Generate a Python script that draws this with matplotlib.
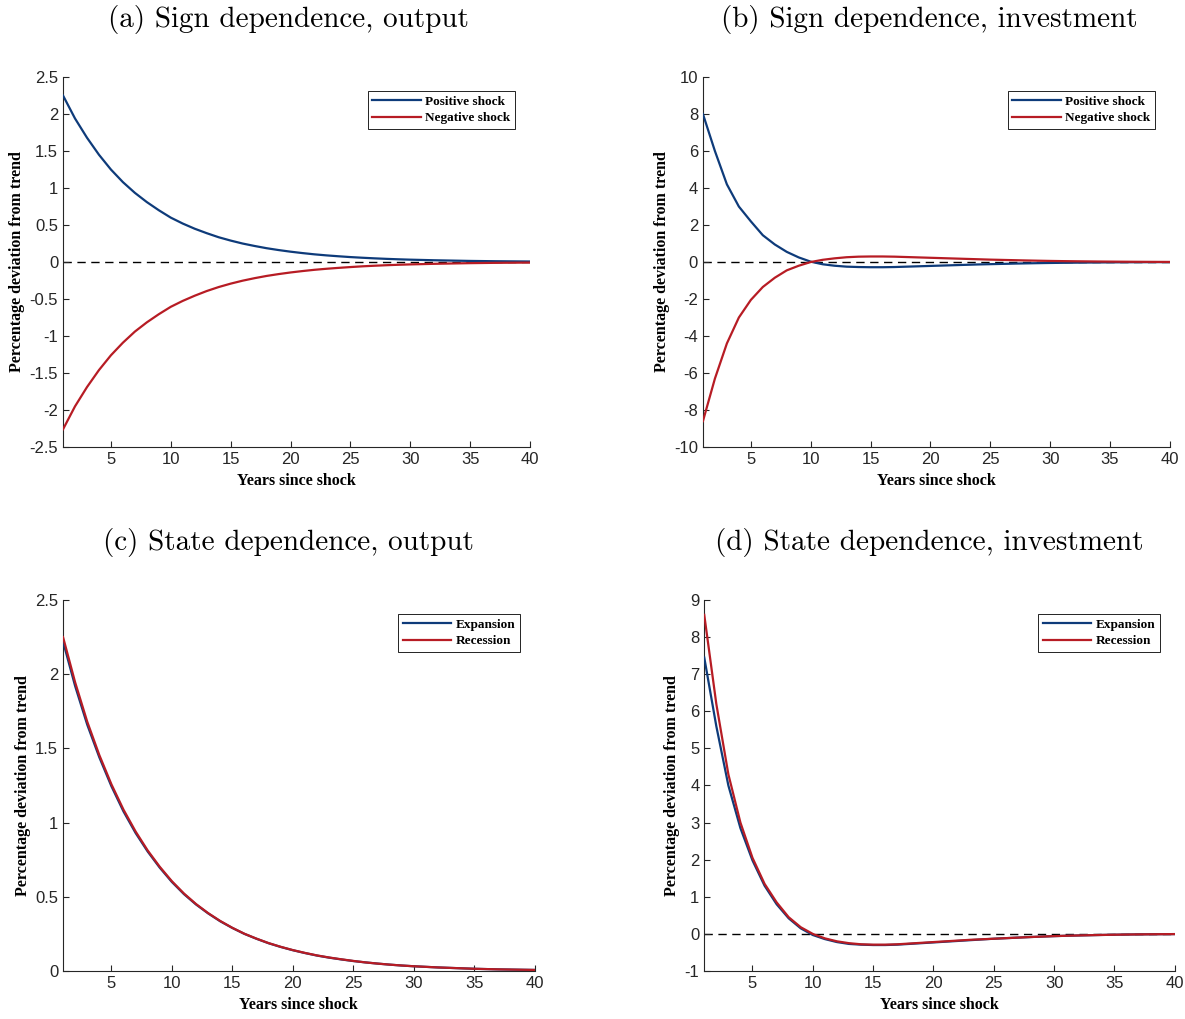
import matplotlib
matplotlib.use('Agg')
import matplotlib.pyplot as plt
import numpy as np

# Данные: отклик на шок, годы 1..40
years = list(range(1, 41))

out_pos = [2.25, 1.94, 1.68, 1.45, 1.25, 1.08, 0.935, 0.81, 0.70, 0.60,
           0.52, 0.45, 0.39, 0.335, 0.29, 0.25, 0.217, 0.187, 0.162, 0.14,
           0.121, 0.104, 0.090, 0.078, 0.067, 0.058, 0.050, 0.043, 0.037, 0.032,
           0.028, 0.024, 0.021, 0.018, 0.015, 0.013, 0.011, 0.0097, 0.0084, 0.0072]
out_neg = [-2.26, -1.95, -1.69, -1.46, -1.26, -1.09, -0.94, -0.815, -0.705, -0.605,
           -0.525, -0.455, -0.392, -0.338, -0.292, -0.252, -0.218, -0.188, -0.163, -0.141,
           -0.122, -0.105, -0.091, -0.079, -0.068, -0.058, -0.050, -0.043, -0.037, -0.032,
           -0.028, -0.024, -0.021, -0.018, -0.015, -0.013, -0.011, -0.0097, -0.0084, -0.0072]

inv_pos = [8.0, 6.0, 4.2, 3.0, 2.2, 1.45, 0.95, 0.55, 0.25, 0.02,
           -0.12, -0.2, -0.25, -0.27, -0.28, -0.28, -0.27, -0.25, -0.23, -0.21,
           -0.19, -0.17, -0.15, -0.13, -0.115, -0.10, -0.085, -0.072, -0.06, -0.05,
           -0.042, -0.035, -0.028, -0.023, -0.018, -0.014, -0.011, -0.008, -0.006, -0.004]
inv_neg = [-8.6, -6.3, -4.4, -3.0, -2.05, -1.35, -0.85, -0.45, -0.2, 0.0,
           0.12, 0.2, 0.26, 0.29, 0.3, 0.3, 0.29, 0.27, 0.25, 0.23,
           0.21, 0.19, 0.17, 0.15, 0.13, 0.115, 0.10, 0.085, 0.072, 0.06,
           0.05, 0.042, 0.035, 0.028, 0.023, 0.018, 0.014, 0.011, 0.008, 0.006]

out_exp = [2.22, 1.92, 1.66, 1.44, 1.245, 1.075, 0.93, 0.805, 0.696, 0.60,
           0.518, 0.448, 0.388, 0.335, 0.29, 0.25, 0.217, 0.187, 0.162, 0.14,
           0.121, 0.104, 0.090, 0.078, 0.067, 0.058, 0.050, 0.043, 0.037, 0.032,
           0.028, 0.024, 0.021, 0.018, 0.015, 0.013, 0.011, 0.0097, 0.0084, 0.0072]
out_rec = [2.25, 1.945, 1.68, 1.455, 1.258, 1.087, 0.94, 0.812, 0.702, 0.605,
           0.522, 0.451, 0.39, 0.337, 0.291, 0.251, 0.218, 0.188, 0.163, 0.141,
           0.122, 0.105, 0.091, 0.079, 0.068, 0.058, 0.050, 0.043, 0.037, 0.032,
           0.028, 0.024, 0.021, 0.018, 0.015, 0.013, 0.011, 0.0097, 0.0084, 0.0072]

inv_exp = [7.45, 5.6, 4.0, 2.85, 1.98, 1.3, 0.8, 0.42, 0.15, -0.03,
           -0.14, -0.22, -0.27, -0.29, -0.3, -0.3, -0.29, -0.27, -0.25, -0.23,
           -0.21, -0.19, -0.17, -0.15, -0.13, -0.115, -0.10, -0.085, -0.072, -0.06,
           -0.05, -0.042, -0.035, -0.028, -0.022, -0.017, -0.013, -0.01, -0.007, -0.005]
inv_rec = [8.6, 6.2, 4.3, 3.0, 2.05, 1.35, 0.85, 0.45, 0.18, 0.0,
           -0.12, -0.2, -0.25, -0.28, -0.29, -0.29, -0.28, -0.26, -0.24, -0.22,
           -0.2, -0.18, -0.16, -0.145, -0.13, -0.115, -0.10, -0.085, -0.072, -0.06,
           -0.05, -0.042, -0.035, -0.028, -0.022, -0.017, -0.013, -0.01, -0.007, -0.005]

titles = ['(a) Sign dependence, output', '(b) Sign dependence, investment',
          '(c) State dependence, output', '(d) State dependence, investment']

BLUE = '#0e3b7a'
RED = '#b71c24'
GREY = '#262626'

# [left, bottom, width, height]
boxes = [[0.0532, 0.5613, 0.394, 0.3631],
         [0.5932, 0.5613, 0.394, 0.3631],
         [0.0532, 0.0471, 0.398, 0.3641],
         [0.5943, 0.0471, 0.397, 0.3641]]
title_x = [0.243, 0.784, 0.243, 0.784]

panels = [
    (out_pos, out_neg, 'Positive shock', 'Negative shock', (-2.5, 2.5), np.arange(-2.5, 2.51, 0.5), True),
    (inv_pos, inv_neg, 'Positive shock', 'Negative shock', (-10, 10), np.arange(-10, 11, 2), True),
    (out_exp, out_rec, 'Expansion', 'Recession', (0, 2.5), np.arange(0, 2.51, 0.5), False),
    (inv_exp, inv_rec, 'Expansion', 'Recession', (-1, 9), np.arange(-1, 10, 1), True),
]

fig = plt.figure(figsize=(11.85, 10.19), dpi=100)

for i, (s1, s2, l1, l2, ylim, yt, zero) in enumerate(panels):
    ax = fig.add_axes(boxes[i])
    if zero:
        ax.axhline(0, color='k', lw=1.0, ls=(0, (6, 4)), zorder=1)
    ax.plot(years, s1, color=BLUE, lw=1.6, label=l1, zorder=3)
    ax.plot(years, s2, color=RED, lw=1.6, label=l2, zorder=3)
    ax.set_xlim(1, 40)
    ax.set_ylim(*ylim)
    ax.set_xticks([5, 10, 15, 20, 25, 30, 35, 40])
    ax.set_yticks(yt)
    ax.set_yticklabels(['%g' % v for v in yt])
    for s in ['top', 'right']:
        ax.spines[s].set_visible(False)
    for s in ['left', 'bottom']:
        ax.spines[s].set_color(GREY)
        ax.spines[s].set_linewidth(0.8)
    ax.tick_params(direction='in', length=4, width=0.8, color=GREY,
                   labelcolor=GREY, labelsize=12)
    for lab in ax.get_xticklabels() + ax.get_yticklabels():
        lab.set_family('Liberation Sans')
    ax.set_xlabel('Years since shock', family='Liberation Serif', weight='bold',
                  fontsize=11.5, labelpad=4.5)
    ax.set_ylabel('Percentage deviation from trend', family='Liberation Serif',
                  weight='bold', fontsize=11.5, labelpad=3)
    leg = ax.legend(loc='upper right', bbox_to_anchor=(0.968, 0.962), fancybox=False,
                    framealpha=1, edgecolor='k', borderpad=0.35, handlelength=3.7,
                    handletextpad=0.3, labelspacing=0.3, borderaxespad=0,
                    prop={'family': 'Liberation Serif', 'weight': 'bold', 'size': 9.5})
    leg.get_frame().set_linewidth(0.6)
    ty = boxes[i][1] + boxes[i][3] + 0.056
    fig.text(title_x[i], ty, titles[i], family='cmr10', fontsize=21, ha='center', va='center')

fig.savefig('out.png', dpi=100)
